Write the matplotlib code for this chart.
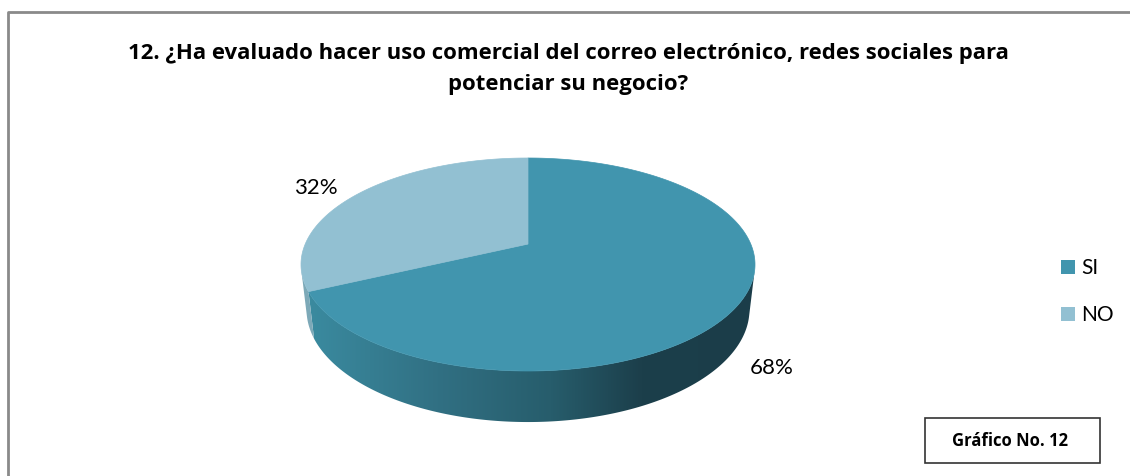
import numpy as np
import matplotlib.pyplot as plt
from matplotlib.patches import Polygon, Rectangle
from matplotlib.colors import LinearSegmentedColormap

# ---- data ----
labels = ['SI', 'NO']
values = [68, 32]
pct_text = ['68%', '32%']
top_colors = ['#4195AE', '#92C0D2']
title = ('12. ¿Ha evaluado hacer uso comercial del correo electrónico, redes sociales para\n'
         'potenciar su negocio?')

plt.rcParams['font.family'] = ['Lato', 'DejaVu Sans']

fig = plt.figure(figsize=(11.3, 4.77), dpi=100)
ax = fig.add_axes([0, 0, 1, 1])
ax.set_xlim(0, 1130)
ax.set_ylim(477, 0)
ax.axis('off')

# outer frame (runs off the right and bottom edges)
ax.plot([7.5, 7.5, 1135], [490, 12.5, 12.5], color='#8a8a8a', lw=2, solid_capstyle='butt')

# ---- 3D pie with a bit of perspective ----
phi = np.radians(28)       # camera elevation
D = 4.6                    # camera distance (pie radius = 1)
h = 0.236                  # pie thickness
sphi, cphi = np.sin(phi), np.cos(phi)

def project(t_deg, y):
    t = np.radians(t_deg)
    X, Z = np.cos(t), np.sin(t)
    zc = D - y * sphi + Z * cphi
    yc = y * cphi + Z * sphi
    return X / zc, yc / zc

# fit the top ellipse into its box on the page
tt = np.linspace(0, 360, 2000)
u, v = project(tt, 0.0)
box_l, box_r, box_t, box_b = 301, 755, 159, 372
sx = (box_r - box_l) / (u.max() - u.min())
sy = (box_b - box_t) / (v.max() - v.min())

def to_page(t_deg, y):
    uu, vv = project(t_deg, y)
    return box_l + (uu - u.min()) * sx, box_t + (v.max() - vv) * sy

def arc(t0, t1, y=0.0, n=300):
    return to_page(np.linspace(t0, t1, n), y)

fracs = np.array(values) / np.sum(values)
starts = 90 - np.concatenate([[0], np.cumsum(fracs)[:-1]]) * 360
ends = starts - fracs * 360

# visible part of the side wall
t_vis = np.degrees(np.arcsin(1 / (D * cphi)))
vis_lo, vis_hi = 180 + t_vis, 360 - t_vis

side_cmaps = [
    LinearSegmentedColormap.from_list('si', [(0, '#3B8CA1'), (0.3, '#317083'),
                                             (0.55, '#275D6C'), (0.75, '#1C3F4B'),
                                             (1, '#1B3D49')]),
    LinearSegmentedColormap.from_list('no', ['#7DA9B8', '#7DA9B8']),
]
grad = np.linspace(0, 1, 256).reshape(1, -1)
_, ybot = arc(180, 360, -h)

for s, e, cm in zip(starts, ends, side_cmaps):
    lo, hi = min(s, e), max(s, e)
    for shift in (0, 360, -360):
        a, b = max(lo + shift, vis_lo), min(hi + shift, vis_hi)
        if b > a:
            xs, ys = arc(a, b, 0.0)
            xb, yb = arc(a, b, -h)
            poly = Polygon(np.column_stack([np.concatenate([xs, xb[::-1]]),
                                            np.concatenate([ys, yb[::-1]])]),
                           closed=True, facecolor='none', edgecolor='none')
            ax.add_patch(poly)
            im = ax.imshow(grad, cmap=cm, aspect='auto',
                           extent=[box_l, box_r, ybot.max() + 2, box_t],
                           zorder=2)
            im.set_clip_path(poly)
ax.set_xlim(0, 1130)
ax.set_ylim(477, 0)

# top faces, meeting at the projected centre
cpt = (box_l + (0 - u.min()) * sx, box_t + (v.max() - 0) * sy)
for s, e, c in zip(starts, ends, top_colors):
    xs, ys = arc(s, e)
    px = np.concatenate([[cpt[0]], xs])
    py = np.concatenate([[cpt[1]], ys])
    ax.add_patch(Polygon(np.column_stack([px, py]), closed=True,
                         facecolor=c, edgecolor=c, lw=0.5, zorder=3))

# percentage labels
ax.text(772, 368, pct_text[0], fontsize=16, ha='center', va='center', color='black')
ax.text(316, 188, pct_text[1], fontsize=16, ha='center', va='center', color='black')

# title, sized to the width it takes in the original
ttl = ax.text(568, 69, title, fontsize=13, fontweight='bold', ha='center', va='center',
              linespacing=1.6, family=['Open Sans', 'DejaVu Sans'])
fig.canvas.draw()
w = ttl.get_window_extent().width
ttl.set_fontsize(13 * 870 / w)

# legend
for i, (lab, c) in enumerate(zip(labels, top_colors)):
    y = 268 + i * 47
    ax.add_patch(Rectangle((1061, y - 7), 14, 14, facecolor=c, edgecolor='none'))
    ax.text(1081, y, lab, fontsize=15, ha='left', va='center')

# caption box
ax.add_patch(Rectangle((924.5, 418.5), 175, 45, facecolor='white',
                       edgecolor='#333333', lw=1.2))
ax.text(1010, 441, 'Gráfico No. 12', fontsize=12, fontweight='bold',
        ha='center', va='center', family=['Open Sans', 'DejaVu Sans'])

fig.savefig('out.png', dpi=100)
